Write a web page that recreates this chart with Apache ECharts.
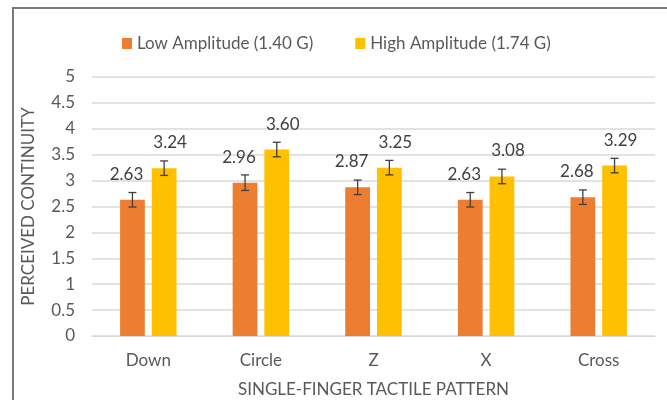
<!DOCTYPE html>
<html><head><meta charset="utf-8">
<script src="https://cdn.jsdelivr.net/npm/echarts@6/dist/echarts.min.js"></script>
<style>html,body{margin:0;padding:0;background:#fff}#c{width:667px;height:400px}</style>
</head><body><div id="c"></div>
<script>
const categories = ['Down', 'Circle', 'Z', 'X', 'Cross'];
const lowValues = [2.63, 2.96, 2.87, 2.63, 2.68];
const highValues = [3.24, 3.60, 3.25, 3.08, 3.29];
const lowErr = [0.14, 0.15, 0.14, 0.14, 0.14];
const highErr = [0.14, 0.14, 0.14, 0.14, 0.14];
const seriesNames = ['Low Amplitude (1.40 G)', 'High Amplitude (1.74 G)'];
const yTicks = [0, 0.5, 1, 1.5, 2, 2.5, 3, 3.5, 4, 4.5, 5];

const FONT = 'Lato';
const FS = 17;
const TXT = '#595959';
const chart = echarts.init(document.getElementById('c'));

function errSeries(vals, errs, seriesIndex) {
  return {
    type: 'custom',
    silent: true,
    z: 10,
    data: vals.map((v, i) => [i, v - errs[i], v + errs[i]]),
    renderItem: function (params, api) {
      const idx = api.value(0);
      const lo = api.coord([idx, api.value(1)]);
      const hi = api.coord([idx, api.value(2)]);
      const bw = api.size([1, 0])[0];
      const barW = bw * 0.22, gap = barW * 0.28;
      const off = (seriesIndex === 0 ? -1 : 1) * (barW + gap) / 2;
      const x = lo[0] + off;
      const cap = 4;
      const st = { stroke: '#404040', lineWidth: 1.3 };
      return {
        type: 'group', children: [
          { type: 'line', shape: { x1: x, y1: lo[1], x2: x, y2: hi[1] }, style: st },
          { type: 'line', shape: { x1: x - cap, y1: lo[1], x2: x + cap, y2: lo[1] }, style: st },
          { type: 'line', shape: { x1: x - cap, y1: hi[1], x2: x + cap, y2: hi[1] }, style: st }
        ]
      };
    }
  };
}

chart.setOption({
  animation: false,
  textStyle: { fontFamily: FONT },
  graphic: [{
    type: 'rect', shape: { x: 13, y: 8, width: 700, height: 500 },
    style: { fill: 'none', stroke: '#7a7a7a', lineWidth: 2 }, silent: true, z: -1
  }],
  legend: {
    top: 30, left: 117, itemWidth: 10, itemHeight: 11, itemGap: 42,
    icon: 'rect',
    textStyle: { fontFamily: FONT, fontSize: FS, color: TXT },
    data: seriesNames
  },
  grid: { left: 92, right: 12, top: 77, bottom: 64, containLabel: false, outerBoundsMode: 'none' },
  xAxis: {
    type: 'category', data: categories,
    axisLine: { lineStyle: { color: '#d9d9d9', width: 1 } },
    axisTick: { show: false },
    axisLabel: { fontFamily: FONT, fontSize: FS, color: TXT, margin: 16 },
    name: 'SINGLE-FINGER TACTILE PATTERN', nameLocation: 'middle', nameGap: 45,
    nameTextStyle: { fontFamily: FONT, fontSize: FS, color: TXT }
  },
  yAxis: {
    type: 'value', min: 0, max: 5, interval: 0.5,
    axisLine: { show: false }, axisTick: { show: false },
    splitLine: { lineStyle: { color: '#d9d9d9', width: 1.5 } },
    axisLabel: { fontFamily: FONT, fontSize: FS, color: TXT, margin: 17,
      formatter: v => String(v) },
    name: 'PERCEIVED CONTINUITY', nameLocation: 'middle', nameGap: 55,
    nameTextStyle: { fontFamily: FONT, fontSize: FS, color: TXT }
  },
  series: [
    {
      name: seriesNames[0], type: 'bar', data: lowValues, barWidth: '22%', barGap: '28%',
      itemStyle: { color: '#ED7D31' },
      label: { show: true, position: 'top', distance: 17, offset: [-6, 0],
        formatter: p => p.value.toFixed(2), fontFamily: FONT, fontSize: FS, color: '#404040' }
    },
    {
      name: seriesNames[1], type: 'bar', data: highValues, barWidth: '22%', barGap: '28%',
      itemStyle: { color: '#FFC000' },
      label: { show: true, position: 'top', distance: 17, offset: [6, 0],
        formatter: p => p.value.toFixed(2), fontFamily: FONT, fontSize: FS, color: '#404040' }
    },
    errSeries(lowValues, lowErr, 0),
    errSeries(highValues, highErr, 1)
  ]
});
</script></body></html>
